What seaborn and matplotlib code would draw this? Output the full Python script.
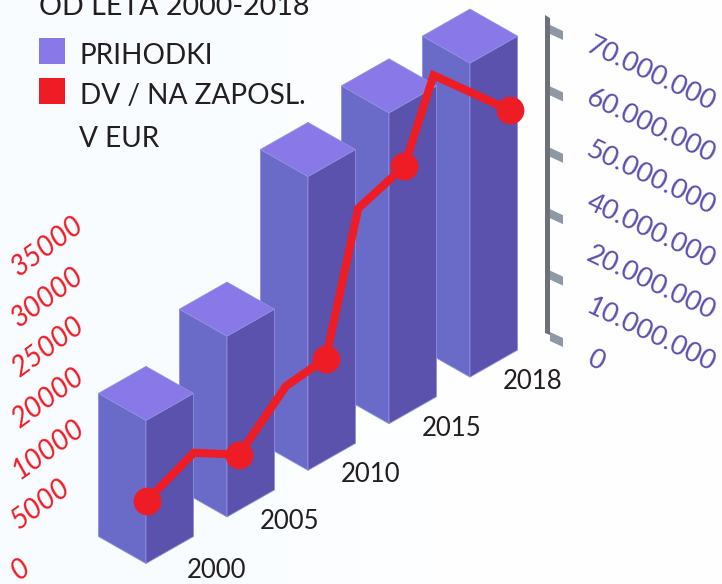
import numpy as np
import pandas as pd
import matplotlib
matplotlib.use("Agg")
import matplotlib.pyplot as plt
import seaborn as sns

years = ["2000", "2005", "2010", "2015", "2018"]
revenue = [31.9e6, 40.3e6, 65.5e6, 69.3e6, 70.0e6]
line_slots = [0.01, 0.59, 1.15, 1.73, 2.22, 2.62, 3.19, 3.55, 4.49]
line_values = [6800, 9100, 6050, 10600, 11100, 25480, 27200, 35300, 26700]
marker_slots = [0.01, 1.15, 2.22, 3.19, 4.49]
marker_values = [6800, 6050, 11100, 27200, 26700]
right_labels = ["70.000.000", "60.000.000", "50.000.000", "40.000.000", "20.000.000", "10.000.000", "0"]
left_labels = ["0", "5000", "10000", "20000", "25000", "30000", "35000"]
legend_labels = ["PRIHODKI", "DV / NA ZAPOSL."]
title_text = "OD LETA 2000-2018"
legend_extra = "V EUR"

TOP, LEFT, RIGHT = "#8878e8", "#6a6ac8", "#5b52ae"
RED, PURPLE_TXT, INK = "#ee1c25", "#5a50b0", "#231f20"
FONT = "Lato"

sns.set_theme(style="white")
plt.rcParams["font.family"] = [FONT, "DejaVu Sans"]

fig = plt.figure(figsize=(7.22, 5.84), dpi=100)
ax = fig.add_axes([0, 0, 1, 1])
ax.set_xlim(0, 722)
ax.set_ylim(584, 0)
ax.axis("off")

grad = np.linspace(0, 1, 256).reshape(1, -1)
cmap = matplotlib.colors.LinearSegmentedColormap.from_list("bg", ["#f8fcff", "#fafdff", "#ffffff", "#fefeff"])
ax.imshow(grad, extent=[0, 722, 584, 0], aspect="auto", cmap=cmap, zorder=0)
ax.set_xlim(0, 722)
ax.set_ylim(584, 0)

# isometric scales
X0, Y0, DX, DY = 146.0, 563.5, 81.0, -46.6
HW, HD = 47.5, 27.0
BAR_K = 314 / 70e6
LINE_K = 320 / 35000


def base(t):
    return X0 + DX * t, Y0 + DY * t


for i in range(len(years) - 1, -1, -1):
    x, y = base(i)
    h = revenue[i] * BAR_K
    yt = y - h
    z = 2 + (len(years) - i)
    edge = dict(edgecolor="#8f8fe0", linewidth=0.6, zorder=z)
    ax.fill([x - HW, x, x, x - HW], [y - HD, y, yt, yt - HD], facecolor=LEFT, **edge)
    ax.fill([x + HW, x, x, x + HW], [y - HD, y, yt, yt - HD], facecolor=RIGHT, **edge)
    ax.fill([x, x + HW, x, x - HW], [yt, yt - HD, yt - 2 * HD, yt - HD], facecolor=TOP, **edge)
    lx = x + (71 if i == 0 else 63)
    ax.text(lx, y + 12 if i else y + 14, years[i], fontsize=18.5, color=INK, ha="center", va="baseline", zorder=20)

# red line
bx = X0 + DX * np.array(line_slots)
by = Y0 + DY * np.array(line_slots) - LINE_K * np.array(line_values)
df_line = pd.DataFrame({"x": bx, "y": by})
sns.lineplot(data=df_line, x="x", y="y", color=RED, linewidth=5.8, sort=False, estimator=None, ax=ax,
             zorder=30, solid_joinstyle="miter")
mx = X0 + DX * np.array(marker_slots)
my = Y0 + DY * np.array(marker_slots) - LINE_K * np.array(marker_values)
df_mark = pd.DataFrame({"x": mx, "y": my})
sns.scatterplot(data=df_mark, x="x", y="y", color=RED, s=400, linewidth=0, ax=ax, zorder=31)
ax.set_xlabel("")
ax.set_ylabel("")
ax.axis("off")

# right axis
ax.fill([545, 550, 550, 545], [15, 18, 335, 333], color="#6e7079", lw=0, zorder=5)
tick_y = 25 + 61.4 * np.arange(6)
for ty in tick_y:
    ax.fill([550, 563, 563, 550], [ty, ty + 6, ty + 15, ty + 9], color="#8f99a6", lw=0, zorder=5)
for i, lab in enumerate(right_labels):
    ax.text(585, 51 + 52.2 * i, lab, fontsize=19.6, color=PURPLE_TXT, rotation=-25.5,
            rotation_mode="anchor", ha="left", va="baseline")

# left axis
for i, lab in enumerate(left_labels):
    ax.text(19, 581 - 50.7 * i, lab, fontsize=20.5, color=RED, style="italic", rotation=36,
            rotation_mode="anchor", ha="left", va="baseline")

# legend and heading
ax.text(39, 15, title_text, fontsize=20.6, color=INK, ha="left", va="baseline")
for y0, c, lab in zip([38, 78], [TOP, RED], legend_labels):
    ax.fill([39, 65, 65, 39], [y0, y0, y0 + 26, y0 + 26], color=c, lw=0, zorder=5)
    ax.text(80, y0 + 26, lab, fontsize=20.2, color=INK, ha="left", va="baseline")
ax.text(79, 147, legend_extra, fontsize=20.2, color=INK, ha="left", va="baseline")

fig.savefig("out.png", dpi=100)
